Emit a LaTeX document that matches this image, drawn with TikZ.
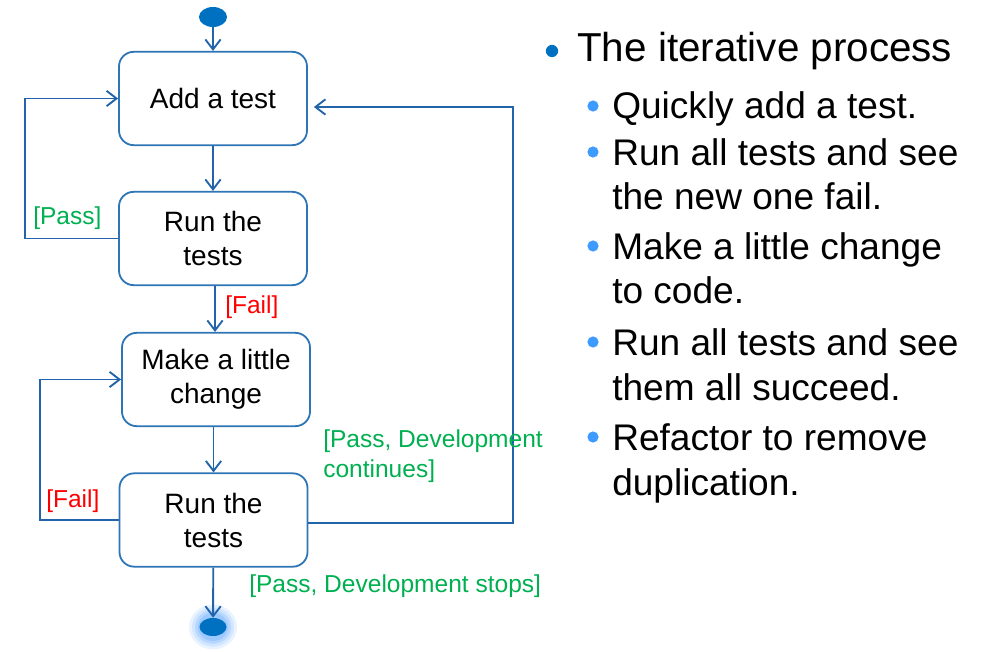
\documentclass[tikz,border=0pt]{standalone}
\usepackage{fontspec}
\setmainfont{Liberation Sans}
\usetikzlibrary{arrows.meta,shapes.geometric,calc}
\definecolor{boxline}{HTML}{2E75B6}
\definecolor{arrline}{HTML}{2263A9}
\definecolor{dotblue}{HTML}{0070C0}
\definecolor{subblue}{HTML}{3D9BFF}
\definecolor{glowc}{HTML}{4A9CFF}
\definecolor{passgreen}{HTML}{00B050}
\definecolor{failred}{HTML}{FF0000}
\tikzset{
  actbox/.style={draw=boxline, line width=1.35pt, rounded corners=11pt,
    minimum width=141pt, minimum height=70pt, inner sep=0pt, align=center,
    font=\fontsize{21}{25.5}\selectfont},
  arr/.style={draw=arrline, line width=1.4pt, -{Straight Barb[length=7.5pt,width=11.5pt]}},
  guard/.style={anchor=base west, inner sep=0pt, font=\fontsize{18.4}{22.5}\selectfont},
  pointnode/.style={ellipse, fill=dotblue, draw=none, inner sep=0pt},
  mainitem/.style={anchor=base west, inner sep=0pt, font=\fontsize{30.3}{36}\selectfont},
  subitem/.style={anchor=base west, inner sep=0pt, font=\fontsize{27.8}{33}\selectfont}
}
\begin{document}
\begin{tikzpicture}[x=0.75pt,y=-0.75pt]
\useasboundingbox (0,0) rectangle (995,652);
% start / end
\node[pointnode, minimum width=21pt, minimum height=15pt] (start) at (213,17) {};
\foreach \r/\o in {24/0.12,21/0.15,18/0.2,15/0.25}{
  \fill[glowc, opacity=\o] (213,627) ellipse ({\r*0.75pt} and {\r*0.7pt});
}
\node[pointnode, minimum width=20.25pt, minimum height=13.5pt] (end) at (213,627) {};
% activity boxes
\node[actbox] (b1) at (213,98.5) {Add a test};
\node[actbox] (b2) at (213,238.5) {Run the\\tests};
\node[actbox] (b3) at (216,379.5) {Make a little\\change};
\node[actbox] (b4) at (213.5,520) {Run the\\tests};
% connectors
\draw[arr] (start) -- (b1);
\draw[arr] (b1) -- (b2);
\draw[arr] ([xshift=1.5pt]b2.south) -- ([xshift=1.5pt]b2.south |- b3.north);
\draw[arr] (b3.south -| b4.north) -- (b4.north);
\draw[arr] (b4) -- (end);
\draw[arr] (b2.west) -- ++(-93,0) |- (b1.west);
\draw[arr] (b4.west) -- ++(-79,0) |- (b3.west);
\coordinate (rc1) at (513,523);
\coordinate (rc2) at (513,107);
\draw[arr] (b4.east |- rc1) -- (rc1) -- (rc2) -- ([xshift=4.5pt]b1.east |- rc2);
% guards
\node[guard, text=passgreen] (gpass) at (33,224) {[Pass]};
\node[guard, text=failred] (gfail1) at (225,313) {[Fail]};
\node[guard, text=failred] (gfail2) at (46,507) {[Fail]};
\node[guard, text=passgreen] (gcont1) at (323,447) {[Pass, Development};
\node[guard, text=passgreen] (gcont2) at (323,477) {continues]};
\node[guard, text=passgreen] (gstop) at (249,592) {[Pass, Development stops]};
% bullet list
\fill[dotblue] (552,51) circle (4.6pt);
\node[mainitem] (t0) at (577,62) {The iterative process};
\foreach \y in {106,152,246,342,437}{
  \fill[subblue] (593,\y) circle (4.2pt);
}
\node[subitem] (t1) at (612,119) {Quickly add a test.};
\node[subitem] (t2) at (612,166) {Run all tests and see};
\node[subitem] (t3) at (612,210) {the new one fail.};
\node[subitem] (t4) at (612,259) {Make a little change};
\node[subitem] (t5) at (612,303) {to code.};
\node[subitem] (t6) at (612,355) {Run all tests and see};
\node[subitem] (t7) at (612,400) {them all succeed.};
\node[subitem] (t8) at (612,450) {Refactor to remove};
\node[subitem] (t9) at (612,495) {duplication.};
\end{tikzpicture}
\end{document}
